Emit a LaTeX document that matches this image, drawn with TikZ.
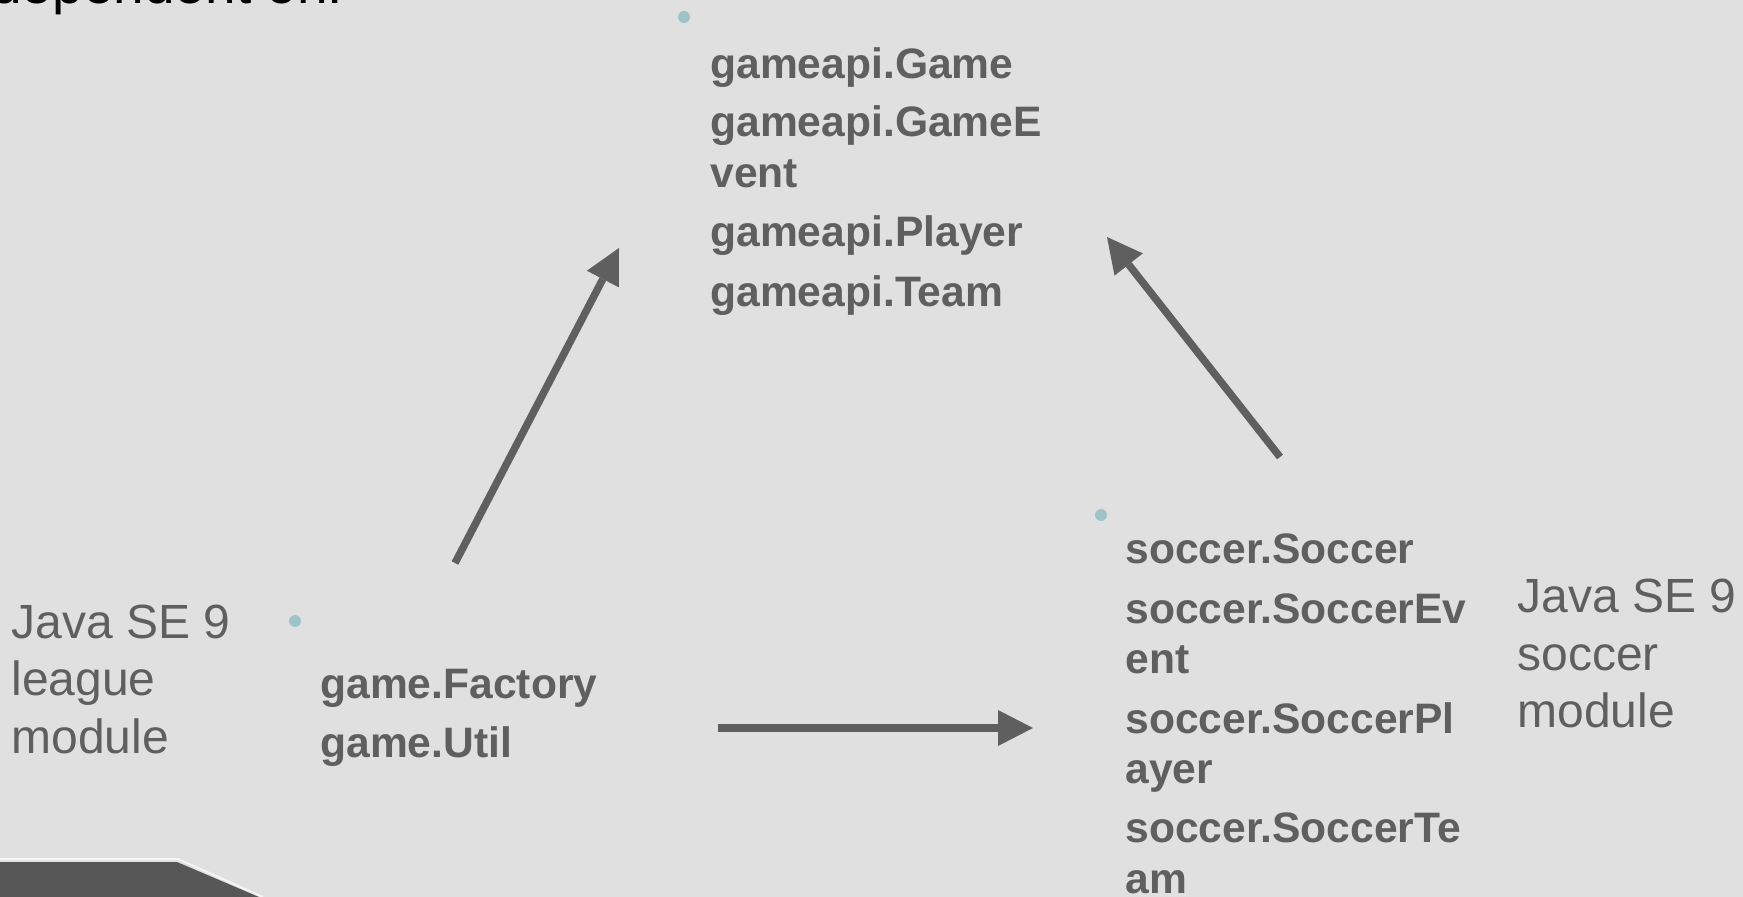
\documentclass[tikz,border=0pt]{standalone}
\usepackage{fontspec}
\setmainfont{Liberation Sans}
\usetikzlibrary{arrows.meta}
\definecolor{bgcol}{RGB}{224,224,224}
\definecolor{txtgray}{RGB}{95,95,95}
\definecolor{arrowgray}{RGB}{95,95,95}
\definecolor{darkshape}{RGB}{87,87,87}
\definecolor{dotcol}{RGB}{157,197,200}
\begin{document}
\begin{tikzpicture}[x=0.5pt,y=-0.5pt,
  plaintxt/.style={anchor=base west, inner sep=0pt, text=txtgray, font=\fontsize{24pt}{28pt}\selectfont},
  boldtxt/.style={anchor=base west, inner sep=0pt, text=txtgray, font=\fontsize{21.3pt}{25pt}\selectfont\bfseries},
  titletxt/.style={anchor=base west, inner sep=0pt, text=black, font=\fontsize{27.5pt}{32pt}\selectfont},
  bulletdot/.style={circle, fill=dotcol, inner sep=0pt, minimum size=6pt},
  deparrow/.style={draw=arrowgray, line width=3.75pt, -{Triangle[length=17.5pt,width=18pt,line width=0pt]}}]
\useasboundingbox (0,0) rectangle (1743,897);
\begin{scope}
\clip (0,0) rectangle (1743,897);
\fill[bgcol] (0,0) rectangle (1743,897);
% partially visible title
\node[titletxt] (title) at (-9,4) {dependent on:};
% bottom-left decorative shape
\draw[white, opacity=0.7, line width=1pt] (0,859) -- (178,859) -- (263,897);
\fill[darkshape] (0,862) -- (177,862) -- (259,897) -- (0,897) -- cycle;
\end{scope}

% bullets
\node[bulletdot] (dtop) at (684,17) {};
\node[bulletdot] (dleft) at (295,621) {};
\node[bulletdot] (dright) at (1101,515) {};

% league module label
\node[plaintxt] (l1) at (11,638) {Java SE 9};
\node[plaintxt] (l2) at (11,695) {league};
\node[plaintxt] (l3) at (11,753) {module};

% soccer module label
\node[plaintxt] (r1) at (1517,612) {Java SE 9};
\node[plaintxt] (r2) at (1517,670) {soccer};
\node[plaintxt] (r3) at (1517,727) {module};

% game packages
\node[boldtxt] (g1) at (320,698) {game.Factory};
\node[boldtxt] (g2) at (320,757) {game.Util};

% gameapi packages
\node[boldtxt] (a1) at (710,79) {gameapi.Game};
\node[boldtxt] (a2) at (710,137) {gameapi.GameE};
\node[boldtxt] (a3) at (710,188) {vent};
\node[boldtxt] (a4) at (710,247) {gameapi.Player};
\node[boldtxt] (a5) at (710,307) {gameapi.Team};

% soccer packages
\node[boldtxt] (s1) at (1125,563) {soccer.Soccer};
\node[boldtxt] (s2) at (1125,623) {soccer.SoccerEv};
\node[boldtxt] (s3) at (1125,673) {ent};
\node[boldtxt] (s4) at (1125,733) {soccer.SoccerPl};
\node[boldtxt] (s5) at (1125,783) {ayer};
\node[boldtxt] (s6) at (1125,842) {soccer.SoccerTe};
\node[boldtxt] (s7) at (1125,893) {am};

% arrows
\coordinate (leagueUp) at (455,563);
\coordinate (apiLeft) at (619,248);
\coordinate (soccerUp) at (1280,457);
\coordinate (apiRight) at (1107,237);
\coordinate (leagueRight) at (718,728);
\coordinate (soccerLeft) at (1033,728);
\draw[deparrow] (leagueUp) -- (apiLeft);
\draw[deparrow] (soccerUp) -- (apiRight);
\draw[deparrow] (leagueRight) -- (soccerLeft);
\end{tikzpicture}
\end{document}
